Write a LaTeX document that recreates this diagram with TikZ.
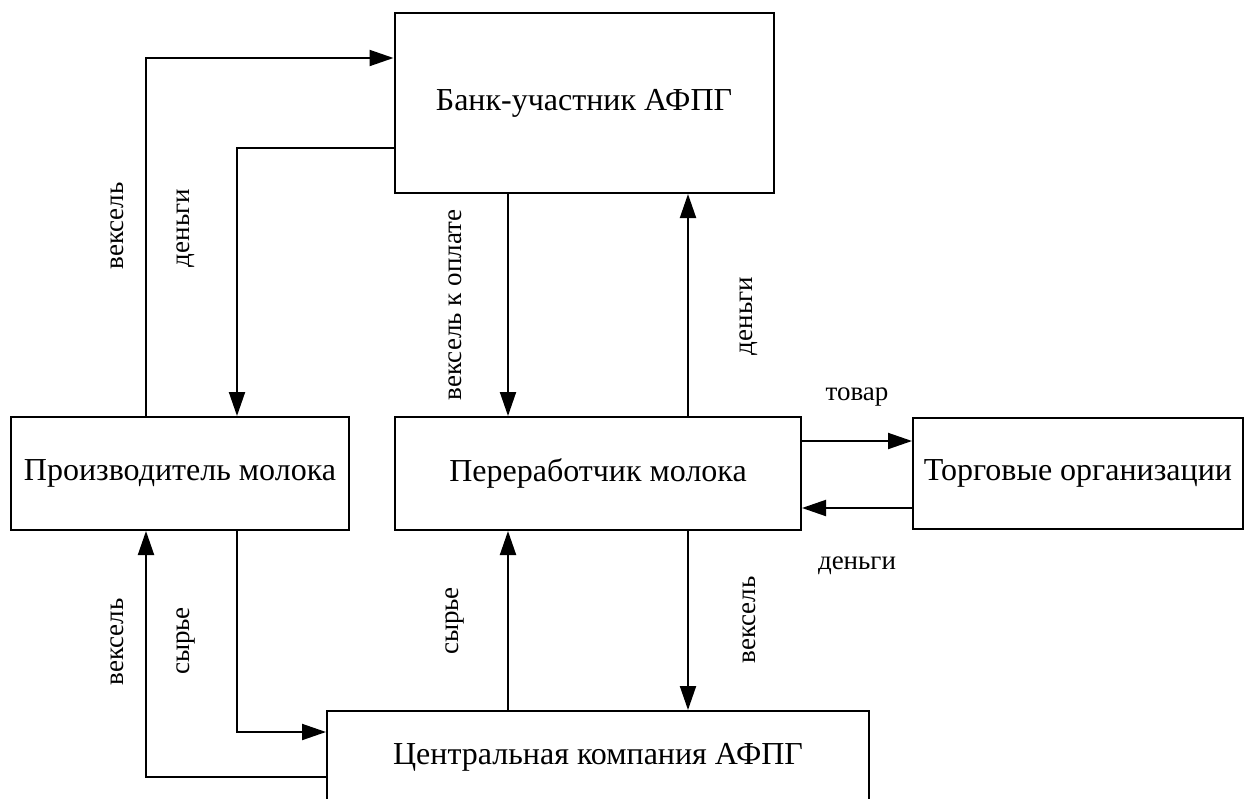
\documentclass[tikz,border=0pt]{standalone}
\usepackage{fontspec}
\setmainfont{Liberation Serif}
\usetikzlibrary{arrows.meta}
\begin{document}
\begin{tikzpicture}[x=1pt,y=-1pt,
  box/.style={draw, line width=2pt, inner sep=0pt, font=\fontsize{32}{36}\selectfont},
  arr/.style={line width=2pt, -{Triangle[length=24pt,width=16pt]}},
  lbl/.style={inner sep=0pt, font=\fontsize{27}{30}\selectfont},
  vlbl/.style={lbl, rotate=90}]
\useasboundingbox (0,0) rectangle (1250,798);
\node[box, minimum width=379pt, minimum height=180pt] (bank) at (584,103) {Банк-участник АФПГ};
\node[box, minimum width=338pt, minimum height=113pt] (prod) at (180,473.5) {Производитель молока};
\node[box, minimum width=406pt, minimum height=113pt] (proc) at (598,473.5) {Переработчик молока};
\node[box, minimum width=330pt, minimum height=111pt] (trade) at (1078,473.5) {Торговые организации};
\node[box, minimum width=542pt, minimum height=92pt] (cent) at (598,757) {Центральная компания АФПГ};
\coordinate (cA) at (146,58);
\coordinate (cB) at (237,148);
\coordinate (cC) at (508,0);
\coordinate (cD) at (688,0);
\coordinate (cE) at (0,441);
\coordinate (cF) at (0,508);
\coordinate (cG) at (237,732);
\coordinate (cH) at (146,777);
\draw[arr] (prod.north -| cA) |- (bank.west |- cA);
\draw[arr] (bank.west |- cB) -| (prod.north -| cB);
\draw[arr] (bank.south -| cC) -- (proc.north -| cC);
\draw[arr] (proc.north -| cD) -- (bank.south -| cD);
\draw[arr] (proc.east |- cE) -- (trade.west |- cE);
\draw[arr] (trade.west |- cF) -- (proc.east |- cF);
\draw[arr] (proc.south -| cD) -- (cent.north -| cD);
\draw[arr] (cent.north -| cC) -- (proc.south -| cC);
\draw[arr] (prod.south -| cG) |- (cent.west |- cG);
\draw[arr] (cent.west |- cH) -| (prod.south -| cH);
\node[vlbl] (l1) at (117,226) {вексель};
\node[vlbl] (l2) at (186,228) {деньги};
\node[vlbl] (l3) at (455,305) {вексель к оплате};
\node[vlbl] (l4) at (749,316) {деньги};
\node[lbl] (l5) at (857,397) {товар};
\node[lbl] (l6) at (857,566) {деньги};
\node[vlbl] (l7) at (749,620) {вексель};
\node[vlbl] (l8) at (455,621) {сырье};
\node[vlbl] (l9) at (117,642) {вексель};
\node[vlbl] (l10) at (186,641) {сырье};
\end{tikzpicture}
\end{document}
